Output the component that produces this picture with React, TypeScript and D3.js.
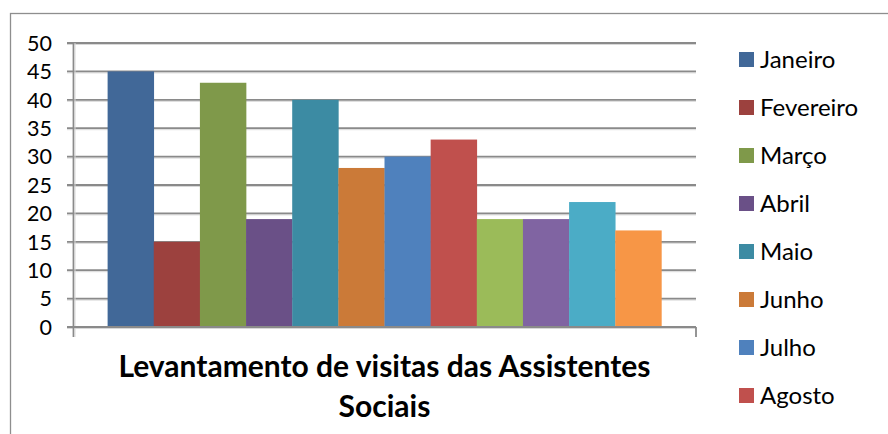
import React from "react";
import * as d3 from "d3";

const months = ["Janeiro","Fevereiro","Março","Abril","Maio","Junho","Julho","Agosto","Setembro","Outubro","Novembro","Dezembro"];
const visits = [45, 15, 43, 19, 40, 28, 30, 33, 19, 19, 22, 17];
const colors = ["#416898","#9C413E","#7F994A","#6A5087","#3C8BA3","#CB7A38","#4F81BD","#C0504D","#9BBB59","#8064A2","#4BACC6","#F79646"];
const yTicks = [0,5,10,15,20,25,30,35,40,45,50];
const titleLines = ["Levantamento de visitas das Assistentes", "Sociais"];

const W = 888, H = 434;
const plot = { left: 73, right: 696, top: 43, bottom: 327 };
const FONT = "Lato, 'Open Sans', sans-serif";
const legendStep = 48;
const legendTop = 59.5;

export default function App() {
  const y = d3.scaleLinear().domain([0, 50]).range([plot.bottom, plot.top]);
  const gapWidth = 1.5;
  const plotW = plot.right - plot.left;
  const barW = plotW / (months.length + gapWidth);
  const x = d3.scaleBand<string>()
    .domain(months)
    .range([plot.left + (barW * gapWidth) / 2, plot.right - (barW * gapWidth) / 2])
    .padding(0);
  const cx = (plot.left + plot.right) / 2;
  // legend is clipped by the chart frame: only entries that fit are shown
  const legendItems = months
    .map((m, i) => ({ m, i, yc: legendTop + i * legendStep }))
    .filter((d) => d.yc + 12 < H);

  return (
    <svg width={W} height={H} style={{ position: "absolute", left: 0, top: 0, background: "#fff" }}>
      <rect x={10.5} y={13.5} width={W + 20} height={H + 50} fill="#fff" stroke="#8e8e8e" strokeWidth={1.3} />
      {/* gridlines */}
      {yTicks.map((t) => (
        <g key={t}>
          <line x1={67} x2={plot.right} y1={y(t) + 1.5} y2={y(t) + 1.5} stroke="#d8d8d8" strokeWidth={1} />
          <line x1={67} x2={plot.right} y1={y(t)} y2={y(t)} stroke="#8a8a8a" strokeWidth={1.8} />
          <text x={52} y={y(t)} dy="0.36em" textAnchor="end" fontFamily={FONT} fontSize={21.5} fill="#000">{t}</text>
        </g>
      ))}
      {/* bars */}
      {months.map((m, i) => (
        <rect key={m} x={x(m)} y={y(visits[i])} width={x.bandwidth() + 0.3} height={y(0) - y(visits[i])} fill={colors[i]} />
      ))}
      {/* axes */}
      <line x1={plot.left + 0.5} x2={plot.left + 0.5} y1={plot.top} y2={plot.bottom + 10} stroke="#8a8a8a" strokeWidth={1.8} />
      <line x1={plot.left + 2} x2={plot.left + 2} y1={plot.top} y2={plot.bottom + 10} stroke="#d8d8d8" strokeWidth={1} />
      <line x1={67} x2={plot.right} y1={plot.bottom} y2={plot.bottom} stroke="#8a8a8a" strokeWidth={1.8} />
      <line x1={plot.right} x2={plot.right} y1={plot.bottom} y2={plot.bottom + 10} stroke="#8a8a8a" strokeWidth={1.8} />
      {/* title */}
      {titleLines.map((l, i) => (
        <text key={i} x={cx} y={377 + i * 40} textAnchor="middle" fontFamily={FONT} fontWeight="bold" fontSize={30} fill="#000">{l}</text>
      ))}
      {/* legend */}
      {legendItems.map(({ m, i, yc }) => (
        <g key={m}>
          <rect x={739} y={yc - 7.5} width={15} height={15} fill={colors[i]} />
          <text x={760} y={yc} dy="0.36em" fontFamily={FONT} fontSize={24} fill="#000">{m}</text>
        </g>
      ))}
    </svg>
  );
}
